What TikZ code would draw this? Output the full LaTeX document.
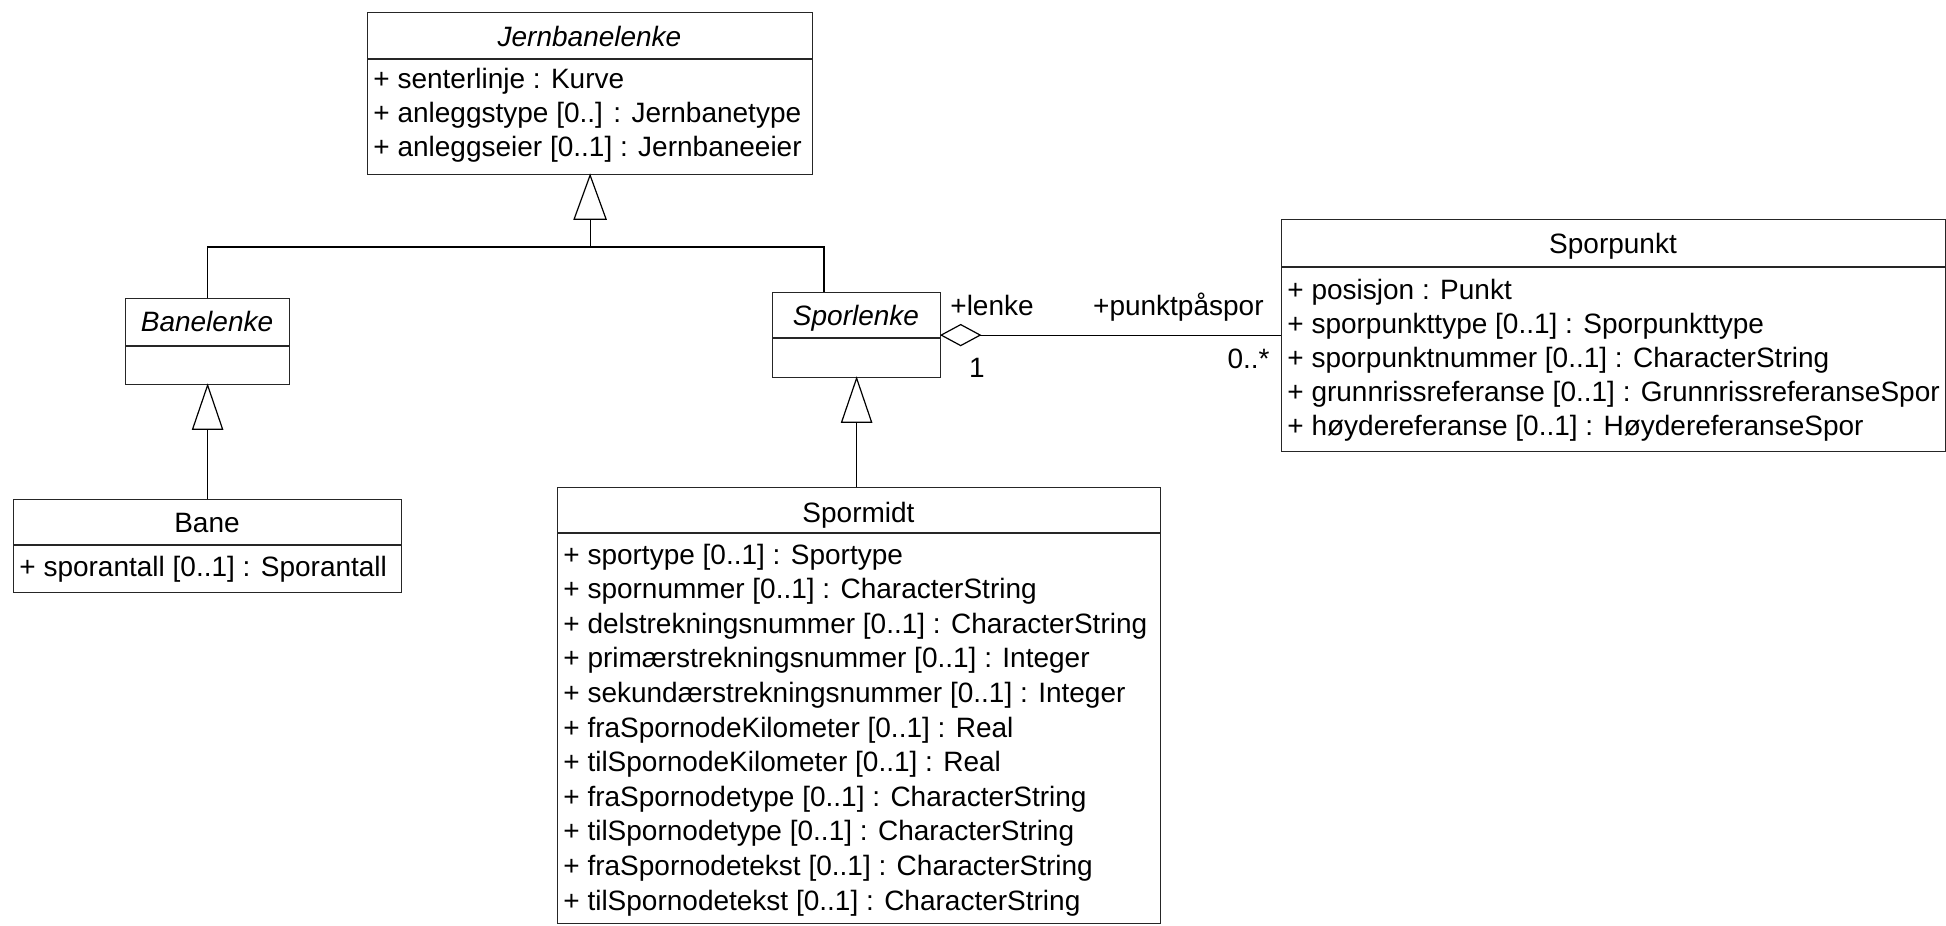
\documentclass[tikz,border=0pt]{standalone}
\usepackage{fontspec}
\setmainfont{Liberation Sans}
\begin{document}
\begin{tikzpicture}[x=0.5pt,y=-0.5pt,
  classbox/.style={draw=black!85,line width=0.6pt,inner sep=0pt,anchor=north west,fill=white},
  seprule/.style={draw=black!85,line width=0.6pt},
  conn/.style={draw=black,line width=0.6pt},
  ctitle/.style={anchor=base,inner sep=0pt,font=\fontsize{14pt}{16pt}\selectfont},
  attr/.style={anchor=base west,inner sep=0pt,font=\fontsize{14pt}{16pt}\selectfont},
  rolelbl/.style={inner sep=0pt,font=\fontsize{14pt}{16pt}\selectfont}]
\useasboundingbox (0,0) rectangle (1946,925);

% ---- class boxes ----
\node[classbox,minimum width=222.5pt,minimum height=81pt] (jern) at (367,12) {};
\node[classbox,minimum width=82pt,minimum height=43pt] (banelenke) at (125,298) {};
\node[classbox,minimum width=194pt,minimum height=46.5pt] (bane) at (13,499) {};
\node[classbox,minimum width=84pt,minimum height=42.5pt] (sporlenke) at (772,292) {};
\node[classbox,minimum width=301.5pt,minimum height=218pt] (spormidt) at (557,487) {};
\node[classbox,minimum width=332pt,minimum height=116pt] (sporpunkt) at (1281,219) {};

% ---- compartment separators ----
\draw[seprule] (jern.west |- 0,59) -- (jern.east |- 0,59);
\draw[seprule] (banelenke.west |- 0,346) -- (banelenke.east |- 0,346);
\draw[seprule] (bane.west |- 0,545) -- (bane.east |- 0,545);
\draw[seprule] (sporlenke.west |- 0,338) -- (sporlenke.east |- 0,338);
\draw[seprule] (spormidt.west |- 0,533) -- (spormidt.east |- 0,533);
\draw[seprule] (sporpunkt.west |- 0,267) -- (sporpunkt.east |- 0,267);

% ---- titles ----
\node[ctitle] (jernT) at (589.5,47) {\itshape Jernbanelenke};
\node[ctitle] (banelenkeT) at (207,331) {\itshape Banelenke};
\node[ctitle] (baneT) at (207,532) {Bane};
\node[ctitle] (sporlenkeT) at (856,325) {\itshape Sporlenke};
\node[ctitle] (spormidtT) at (858.5,522) {Spormidt};
\node[ctitle] (sporpunktT) at (1613,253) {Sporpunkt};

% ---- attributes ----
\foreach \t [count=\i] in {{+ senterlinje : Kurve},{+ anleggstype [0..] : Jernbanetype},{+ anleggseier [0..1] : Jernbaneeier}}
  \node[attr] (ja\i) at (373,89+34*\i-34) {\t};
\node[attr] (ba1) at (19,576) {+ sporantall [0..1] : Sporantall};
\foreach \t [count=\i] in {{+ sportype [0..1] : Sportype},{+ spornummer [0..1] : CharacterString},{+ delstrekningsnummer [0..1] : CharacterString},{+ primærstrekningsnummer [0..1] : Integer},{+ sekundærstrekningsnummer [0..1] : Integer},{+ fraSpornodeKilometer [0..1] : Real},{+ tilSpornodeKilometer [0..1] : Real},{+ fraSpornodetype [0..1] : CharacterString},{+ tilSpornodetype [0..1] : CharacterString},{+ fraSpornodetekst [0..1] : CharacterString},{+ tilSpornodetekst [0..1] : CharacterString}}
  \node[attr] (sm\i) at (563,564+34.6*\i-34.6) {\t};
\foreach \t [count=\i] in {{+ posisjon : Punkt},{+ sporpunkttype [0..1] : Sporpunkttype},{+ sporpunktnummer [0..1] : CharacterString},{+ grunnrissreferanse [0..1] : GrunnrissreferanseSpor},{+ høydereferanse [0..1] : HøydereferanseSpor}}
  \node[attr] (sp\i) at (1287,299+34*\i-34) {\t};

% ---- generalization: Jernbanelenke <- Banelenke, Sporlenke ----
\coordinate (jbase) at ([yshift=-22pt]jern.south);
\coordinate (jbar) at (jern.south |- 0,247);
\coordinate (slt) at (824,292);
\draw[conn,fill=white] (jern.south) -- ([xshift=-8pt]jbase) -- ([xshift=8pt]jbase) -- cycle;
\draw[conn] (jbase) -- (jbar);
\draw[conn] (banelenke.north) |- (jbar) -| (slt);

% ---- generalization: Banelenke <- Bane ----
\coordinate (bbase) at ([yshift=-22pt]banelenke.south);
\draw[conn,fill=white] (banelenke.south) -- ([xshift=-7.5pt]bbase) -- ([xshift=7.5pt]bbase) -- cycle;
\draw[conn] (bbase) -- (bane.north);

% ---- generalization: Sporlenke <- Spormidt ----
\coordinate (sbase) at ([yshift=-22pt]sporlenke.south);
\draw[conn,fill=white] (sporlenke.south) -- ([xshift=-7.5pt]sbase) -- ([xshift=7.5pt]sbase) -- cycle;
\draw[conn] (sbase) -- (sbase |- spormidt.north);

% ---- aggregation: Sporlenke <>-- Sporpunkt ----
\coordinate (dtip) at ([xshift=19.5pt]sporlenke.east);
\draw[conn,fill=white] (sporlenke.east) -- ([xshift=9.75pt,yshift=5.25pt]sporlenke.east) -- (dtip) -- ([xshift=9.75pt,yshift=-5.25pt]sporlenke.east) -- cycle;
\draw[conn] (dtip) -- (dtip -| sporpunkt.west);

% ---- role and multiplicity labels ----
\node[rolelbl,anchor=base west] (lenke) at (950,315) {+lenke};
\node[rolelbl,anchor=base] (mult1) at (977,377) {1};
\node[rolelbl,anchor=base east] (ppspor) at (1264,315) {+punktpåspor};
\node[rolelbl,anchor=base east] (multn) at (1270,368) {0..*};
\end{tikzpicture}
\end{document}
